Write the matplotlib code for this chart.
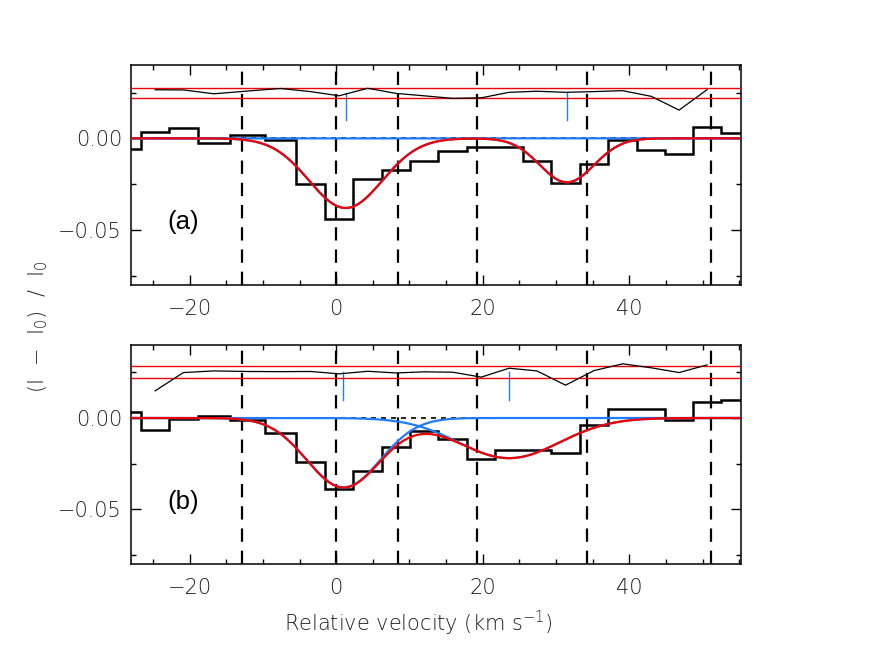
import numpy as np
import matplotlib
matplotlib.use('Agg')
import matplotlib.pyplot as plt
from matplotlib.ticker import MultipleLocator, FixedLocator

plt.rcParams['mathtext.fontset'] = 'custom'
plt.rcParams['mathtext.rm'] = 'DejaVu Sans:light'
plt.rcParams['mathtext.it'] = 'DejaVu Sans:light'
plt.rcParams['mathtext.sf'] = 'DejaVu Sans:light'

# spectrum bin edges (km/s) and binned (I - I0)/I0 for the two panels
edges = [-30.5, -26.64, -22.78, -18.92, -14.50, -9.73, -5.42, -1.54, 2.36, 6.23,
         10.10, 13.96, 17.83, 21.69, 25.55, 29.33, 33.29, 37.15, 41.02, 44.88,
         48.74, 52.52, 56.4]
flux_a = [-0.0057, 0.0035, 0.0055, -0.0024, 0.0018, -0.0011, -0.0249, -0.0441,
          -0.0224, -0.0172, -0.0126, -0.0069, -0.0050, -0.0046, -0.0121, -0.0246,
          -0.0141, -0.0007, -0.0063, -0.0083, 0.0061, 0.0031]
flux_b = [0.0033, -0.0068, -0.0005, 0.0013, -0.0009, -0.0082, -0.0240, -0.0388,
          -0.0288, -0.0159, -0.0069, -0.0113, -0.0226, -0.0175, -0.0173, -0.0189,
          -0.0041, 0.0051, 0.0048, -0.0010, 0.0087, 0.0096]

# residual trace drawn above the spectrum
v_res = [-24.7, -20.85, -16.7, -12.1, -7.6, -3.5, 0.4, 4.3, 8.2, 12.0, 15.9, 19.8,
         23.6, 27.4, 31.3, 35.2, 39.1, 43.0, 46.8, 50.6]
res_a = [0.0265, 0.0264, 0.0243, 0.0258, 0.0272, 0.0255, 0.0232, 0.0273, 0.0245,
         0.0232, 0.0218, 0.0221, 0.0251, 0.0257, 0.0251, 0.0255, 0.0260, 0.0229,
         0.0154, 0.0265]
res_b = [0.0149, 0.0249, 0.0258, 0.0255, 0.0254, 0.0255, 0.0242, 0.0256, 0.0247,
         0.0253, 0.0251, 0.0224, 0.0273, 0.0258, 0.0180, 0.0260, 0.0297, 0.0275,
         0.0249, 0.0291]
band_a = [0.0221, 0.0275]
band_b = [0.0218, 0.0286]

# gaussian components: (centre km/s, depth, sigma km/s)
comps_a = [(1.3, 0.0380, 5.0), (31.5, 0.0240, 3.7)]
comps_b = [(1.0, 0.0380, 5.0), (23.6, 0.0220, 6.9)]

# vertical reference velocities
vlines = [-12.8, 0.0, 8.4, 19.2, 34.2, 51.2]

xlim = (-28.0, 55.2)
ylim = (-0.08, 0.04)
red = '#f00000'
blue = '#1f7bff'
txt = '#1e1e1e'

fig = plt.figure(figsize=(8.72, 6.64), dpi=100)
ax_a = fig.add_axes([0.1502, 0.5708, 0.6992, 0.3313])
ax_b = fig.add_axes([0.1502, 0.1506, 0.6992, 0.3298])

vv = np.linspace(xlim[0], xlim[1], 600)

def panel(ax, flux, res, band, comps, tag, ty):
    ax.axhline(0, color='black', lw=1.2, ls=(0, (3, 3)), zorder=1)
    for v in vlines:
        ax.axvline(v, color='black', lw=1.6, ls=(0, (6, 4)), zorder=1.5)
    ax.stairs(flux, edges, color='black', lw=1.8, zorder=2)
    total = np.zeros_like(vv)
    for c, d, s in comps:
        g = -d * np.exp(-(vv - c) ** 2 / (2 * s ** 2))
        total += g
        ax.plot(vv, g, color=blue, lw=1.6, zorder=3)
        ax.plot([c, c], [0.010, 0.025], color=blue, lw=1.0, zorder=3)
    ax.plot(vv, total, color=red, lw=1.6, zorder=4)
    for b in band:
        ax.axhline(b, color=red, lw=1.0, zorder=3)
    ax.plot(v_res, res, color='black', lw=0.9, zorder=3)

    ax.set_xlim(*xlim)
    ax.set_ylim(*ylim)
    ax.xaxis.set_major_locator(FixedLocator([-20, 0, 20, 40]))
    ax.xaxis.set_minor_locator(MultipleLocator(5))
    ax.yaxis.set_major_locator(FixedLocator([-0.05, 0.0]))
    ax.yaxis.set_minor_locator(MultipleLocator(0.025))
    ax.set_yticklabels(['\u22120.05', '0.00'], fontweight='light')
    ax.set_xticklabels(['\u221220', '0', '20', '40'], fontweight='light')
    ax.tick_params(which='both', direction='in', top=True, right=True,
                   colors='black', labelcolor=txt, labelsize=15)
    ax.tick_params(which='major', length=7.2, width=1.0)
    ax.tick_params(which='minor', length=3.6, width=1.0)
    ax.tick_params(axis='y', pad=6.5)
    ax.tick_params(axis='x', pad=10)
    for sp in ax.spines.values():
        sp.set_linewidth(1.1)
    ax.text(0.086, ty, tag, transform=ax.transAxes, ha='center', va='center',
            fontsize=18.5, family='Liberation Sans', color='black')

panel(ax_a, flux_a, res_a, band_a, comps_a, '(a)', 0.285)
panel(ax_b, flux_b, res_b, band_b, comps_b, '(b)', 0.282)

fig.text(418 / 872, 1 - 623 / 664, 'Relative velocity (km s$^{-1}$)',
         ha='center', va='center', fontsize=15, color=txt, fontweight='light')
fig.text(38 / 872, 1 - 327 / 664, '(I  $-$  I$_0$)  /  I$_0$', rotation=90,
         ha='center', va='center', fontsize=15, color=txt, fontweight='light')

fig.savefig('out.png', dpi=100)
